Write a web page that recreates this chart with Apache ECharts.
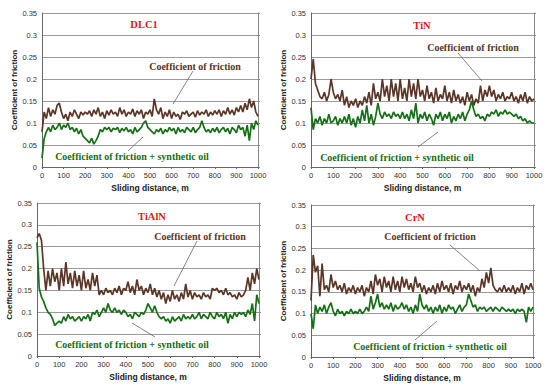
<!DOCTYPE html>
<html><head><meta charset="utf-8">
<script src="https://cdn.jsdelivr.net/npm/echarts@6/dist/echarts.min.js"></script>
<style>html,body{margin:0;padding:0;background:#fff}#c{width:550px;height:386px}</style>
</head><body><div id="c"></div>
<script>
// distance samples (m), every 10 m from 0 to 1000
const distanceStep = 10;
const xTicks = [0,100,200,300,400,500,600,700,800,900,1000];
const yTicks = [0,0.05,0.1,0.15,0.2,0.25,0.3,0.35];
const panelTitles = ['DLC1','TiN','TiAlN','CrN'];
const dryLabel = 'Coefficient of friction';
const oilLabel = 'Coefficient of friction + synthetic oil';

const dlc1Dry = [0.08,0.125,0.11,0.135,0.115,0.13,0.12,0.14,0.145,0.125,
0.11,0.12,0.105,0.125,0.115,0.13,0.12,0.11,0.125,0.118,
0.125,0.12,0.128,0.115,0.13,0.12,0.135,0.115,0.125,0.11,
0.128,0.118,0.13,0.12,0.125,0.115,0.135,0.12,0.13,0.115,
0.125,0.12,0.132,0.115,0.128,0.12,0.13,0.11,0.125,0.12,
0.13,0.115,0.155,0.13,0.12,0.135,0.11,0.125,0.115,0.13,
0.11,0.125,0.115,0.12,0.108,0.125,0.12,0.128,0.115,0.12,
0.125,0.113,0.128,0.118,0.125,0.12,0.13,0.115,0.125,0.118,
0.128,0.12,0.13,0.115,0.128,0.12,0.135,0.12,0.13,0.118,
0.135,0.125,0.14,0.125,0.145,0.13,0.155,0.135,0.15,0.125,0.115];
const dlc1Oil = [0.02,0.065,0.08,0.09,0.08,0.095,0.085,0.09,0.1,0.085,
0.095,0.09,0.1,0.085,0.09,0.08,0.088,0.075,0.085,0.07,
0.065,0.06,0.055,0.065,0.052,0.06,0.07,0.085,0.08,0.09,
0.085,0.09,0.08,0.088,0.085,0.09,0.078,0.088,0.082,0.09,
0.08,0.085,0.075,0.09,0.08,0.085,0.09,0.1,0.105,0.09,
0.085,0.08,0.075,0.085,0.08,0.088,0.075,0.085,0.08,0.09,
0.082,0.088,0.075,0.09,0.08,0.085,0.078,0.09,0.085,0.08,
0.09,0.078,0.085,0.09,0.105,0.09,0.08,0.085,0.078,0.088,
0.08,0.09,0.078,0.085,0.09,0.08,0.088,0.075,0.09,0.085,
0.078,0.095,0.085,0.09,0.07,0.095,0.06,0.1,0.085,0.105,0.095];
const tinDry = [0.2,0.245,0.19,0.175,0.16,0.155,0.17,0.15,0.165,0.2,
0.17,0.155,0.165,0.15,0.175,0.14,0.16,0.135,0.15,0.14,
0.155,0.135,0.15,0.14,0.16,0.145,0.17,0.14,0.19,0.155,
0.17,0.15,0.2,0.16,0.185,0.15,0.2,0.16,0.19,0.15,
0.2,0.155,0.18,0.15,0.2,0.16,0.19,0.155,0.2,0.16,
0.175,0.15,0.185,0.155,0.17,0.145,0.18,0.15,0.165,0.155,
0.185,0.15,0.17,0.145,0.175,0.15,0.165,0.145,0.16,0.14,
0.17,0.15,0.165,0.14,0.155,0.145,0.185,0.15,0.175,0.16,
0.185,0.16,0.175,0.15,0.165,0.155,0.17,0.15,0.16,0.155,
0.17,0.15,0.16,0.145,0.165,0.15,0.17,0.145,0.16,0.15,0.155];
const tinOil = [0.135,0.085,0.11,0.1,0.115,0.095,0.11,0.1,0.12,0.1,
0.105,0.115,0.095,0.11,0.1,0.115,0.1,0.12,0.095,0.11,
0.09,0.115,0.1,0.13,0.105,0.14,0.1,0.12,0.095,0.115,
0.145,0.12,0.11,0.125,0.115,0.12,0.11,0.125,0.115,0.12,
0.11,0.125,0.11,0.12,0.105,0.13,0.11,0.145,0.1,0.12,
0.11,0.125,0.105,0.12,0.11,0.095,0.12,0.11,0.125,0.105,
0.12,0.11,0.125,0.1,0.115,0.105,0.12,0.11,0.125,0.105,
0.12,0.13,0.15,0.13,0.115,0.12,0.11,0.115,0.105,0.12,
0.115,0.125,0.12,0.13,0.115,0.125,0.12,0.13,0.12,0.125,
0.12,0.115,0.12,0.11,0.115,0.105,0.11,0.1,0.105,0.1,0.1];
const tialnDry = [0.27,0.28,0.265,0.2,0.15,0.195,0.16,0.2,0.17,0.19,
0.15,0.2,0.16,0.215,0.165,0.19,0.155,0.195,0.16,0.185,
0.15,0.195,0.155,0.175,0.15,0.19,0.16,0.185,0.14,0.15,
0.14,0.155,0.145,0.15,0.14,0.155,0.145,0.16,0.14,0.155,
0.15,0.17,0.145,0.16,0.14,0.175,0.15,0.16,0.14,0.155,
0.145,0.165,0.14,0.155,0.135,0.15,0.13,0.145,0.12,0.14,
0.125,0.15,0.13,0.14,0.125,0.145,0.13,0.165,0.135,0.15,
0.13,0.145,0.135,0.14,0.13,0.145,0.135,0.14,0.13,0.155,
0.15,0.155,0.145,0.15,0.14,0.155,0.14,0.145,0.135,0.14,
0.13,0.145,0.135,0.14,0.15,0.18,0.15,0.19,0.165,0.2,0.175];
const tialnOil = [0.26,0.155,0.135,0.125,0.11,0.1,0.095,0.085,0.07,0.075,
0.08,0.075,0.09,0.08,0.095,0.085,0.09,0.08,0.085,0.09,
0.08,0.09,0.085,0.095,0.08,0.1,0.095,0.105,0.09,0.1,
0.11,0.1,0.12,0.105,0.1,0.11,0.1,0.105,0.095,0.105,
0.1,0.09,0.095,0.085,0.1,0.095,0.09,0.1,0.095,0.105,
0.12,0.11,0.1,0.115,0.1,0.09,0.085,0.09,0.08,0.085,
0.075,0.09,0.08,0.085,0.09,0.08,0.095,0.085,0.09,0.085,
0.095,0.085,0.09,0.1,0.085,0.095,0.09,0.085,0.1,0.09,
0.085,0.1,0.09,0.095,0.085,0.1,0.075,0.095,0.085,0.1,
0.09,0.1,0.095,0.1,0.09,0.105,0.095,0.12,0.08,0.14,0.12];
const crnDry = [0.13,0.235,0.195,0.21,0.14,0.215,0.155,0.165,0.15,0.19,
0.16,0.175,0.155,0.165,0.15,0.17,0.145,0.16,0.15,0.165,
0.145,0.16,0.15,0.165,0.14,0.16,0.15,0.175,0.145,0.19,
0.165,0.18,0.15,0.185,0.16,0.175,0.15,0.185,0.155,0.175,
0.15,0.185,0.16,0.18,0.155,0.17,0.15,0.185,0.16,0.17,
0.15,0.165,0.145,0.16,0.15,0.165,0.145,0.17,0.15,0.175,
0.155,0.165,0.15,0.17,0.145,0.165,0.155,0.175,0.15,0.165,
0.155,0.17,0.15,0.165,0.14,0.16,0.15,0.18,0.16,0.195,
0.17,0.205,0.165,0.155,0.15,0.16,0.15,0.165,0.15,0.16,
0.15,0.165,0.145,0.16,0.15,0.17,0.145,0.165,0.155,0.17,0.155];
const crnOil = [0.1,0.065,0.12,0.1,0.115,0.105,0.12,0.1,0.115,0.125,
0.105,0.095,0.11,0.1,0.105,0.095,0.105,0.1,0.11,0.1,
0.105,0.1,0.11,0.1,0.105,0.115,0.105,0.14,0.11,0.125,
0.145,0.115,0.125,0.11,0.12,0.11,0.125,0.105,0.12,0.11,
0.115,0.125,0.11,0.12,0.105,0.115,0.1,0.12,0.105,0.145,
0.12,0.11,0.12,0.105,0.115,0.1,0.115,0.105,0.12,0.1,
0.115,0.105,0.12,0.11,0.115,0.1,0.11,0.12,0.105,0.115,
0.12,0.145,0.13,0.115,0.12,0.105,0.115,0.11,0.115,0.105,
0.11,0.115,0.105,0.115,0.11,0.105,0.115,0.11,0.105,0.11,
0.105,0.11,0.1,0.11,0.105,0.11,0.105,0.08,0.115,0.105,0.115];

const dryColor = '#5b3526';
const oilColor = '#157015';
const serif = '"Liberation Serif","Times New Roman",serif';
const sans = '"Liberation Sans",Arial,sans-serif';

const grids = [
  {left:42, top:13, width:216, height:154},
  {left:311, top:13, width:223, height:154},
  {left:37, top:203, width:222, height:153},
  {left:311, top:205, width:222, height:152}
];
const panels = [[dlc1Dry,dlc1Oil],[tinDry,tinOil],[tialnDry,tialnOil],[crnDry,crnOil]];
function pairs(arr){ return arr.map((v,i)=>[i*distanceStep, v]); }

const xAxis = [], yAxis = [], series = [];
grids.forEach((g,i)=>{
  xAxis.push({type:'value', gridIndex:i, min:0, max:1000, interval:100,
    name:'Sliding distance, m', nameLocation:'middle', nameGap:16,
    nameTextStyle:{fontFamily:sans, fontWeight:'bold', fontSize:8.5, color:'#222'},
    axisLine:{show:true, lineStyle:{color:'#666', width:1}},
    axisTick:{show:true, length:2, lineStyle:{color:'#666'}},
    axisLabel:{fontFamily:sans, fontSize:7.5, color:'#333', margin:4, formatter:v=>String(v)},
    splitLine:{show:false}});
  yAxis.push({type:'value', gridIndex:i, min:0, max:0.35, interval:0.05,
    name:'Coefficient of friction', nameLocation:'middle', nameGap:24,
    nameTextStyle:{fontFamily:sans, fontWeight:'bold', fontSize:8, color:'#222'},
    axisLine:{show:true, lineStyle:{color:'#666', width:1}},
    axisTick:{show:false},
    axisLabel:{fontFamily:sans, fontSize:7.5, color:'#333', margin:5,
      formatter:v=>String(+v.toFixed(2))},
    splitLine:{show:true, lineStyle:{color:'#9a9a9a', width:1}}});
  yAxis.push({type:'value', gridIndex:i, min:0, max:0.35, interval:0.05, position:'right',
    axisLine:{show:true, lineStyle:{color:'#888', width:1}},
    axisTick:{show:true, inside:false, length:2, lineStyle:{color:'#888'}},
    axisLabel:{show:false}, splitLine:{show:false}});
  series.push({type:'line', xAxisIndex:i, yAxisIndex:2*i, data:pairs(panels[i][0]),
    symbol:'none', lineStyle:{color:dryColor, width:1.7}, z:3, animation:false});
  series.push({type:'line', xAxisIndex:i, yAxisIndex:2*i, data:pairs(panels[i][1]),
    symbol:'none', lineStyle:{color:oilColor, width:1.7}, z:4, animation:false});
});

function txt(x,y,t,color,size){
  return {type:'text', x:x, y:y, z:100, style:{text:t, fill:color, font:'bold '+size+'px '+serif, align:'center', verticalAlign:'middle'}};
}
function ln(x1,y1,x2,y2){
  return {type:'line', z:100, shape:{x1:x1,y1:y1,x2:x2,y2:y2}, style:{stroke:'#666', lineWidth:0.8}};
}
const ann = [
  // DLC1
  txt(144,24,panelTitles[0],'#e8141c',10.5), txt(195,66,dryLabel,dryColor,10), ln(193,71,173,104),
  txt(132,156,oilLabel,oilColor,10), ln(128,151,143,137),
  // TiN
  txt(422,25,panelTitles[1],'#e8141c',10.5), txt(473,47,dryLabel,dryColor,10), ln(458,53,482,81),
  txt(397,157,oilLabel,oilColor,10), ln(418,147,438,132),
  // TiAlN
  txt(152,216,panelTitles[2],'#e8141c',10.5), txt(200,236,dryLabel,dryColor,10), ln(197,241,174,286),
  txt(132,344,oilLabel,oilColor,10), ln(132,323,155,337),
  // CrN
  txt(415,217,panelTitles[3],'#e8141c',10.5), txt(430,236,dryLabel,dryColor,10), ln(450,245,480,271),
  txt(430,346,oilLabel,oilColor,10), ln(415,340,437,321)
];

const chart = echarts.init(document.getElementById('c'), null, {renderer:'svg'});
chart.setOption({animation:false, backgroundColor:'#fff', grid:grids, xAxis:xAxis, yAxis:yAxis, series:series, graphic:ann});
</script></body></html>
